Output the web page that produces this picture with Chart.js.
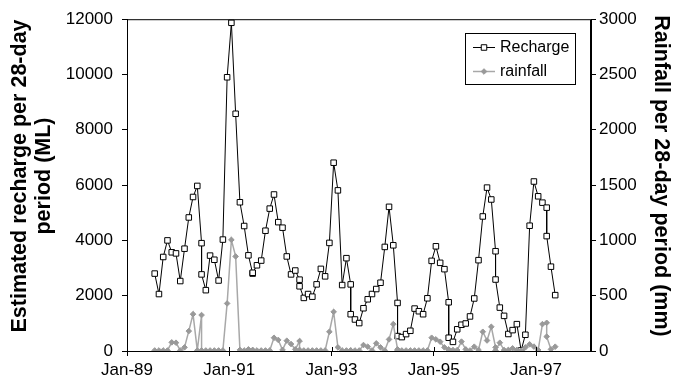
<!DOCTYPE html>
<html>
<head>
<meta charset="utf-8">
<script src="https://cdn.jsdelivr.net/npm/chart.js@4.4.1/dist/chart.umd.min.js"></script>
<style>
  html, body { margin: 0; padding: 0; background: #fff; }
  #wrap { width: 673px; height: 382px; }
</style>
</head>
<body>
<div id="wrap"><canvas id="chart" width="673" height="382"></canvas></div>
<script>
// === Data: 28-day periods, first period starting 29 Jul 1989 ===
const firstPeriod = "1989-07-29";
const periodDays = 28;

// Estimated recharge per 28-day period (ML)
const recharge = [
  2800, 2060, 3400, 4000, 3570, 3530, 2530, 3700, 4830, 5570, 5970, 3900, 2770,
  2200, 3450, 3300, 2550, 4030, 9900, 11870, 8580, 5380, 4520, 3460, 2800, 2830,
  3100, 3270, 4350, 5150, 5660, 4660, 4460, 3420, 2770, 2910, 2580, 2340,
  1920, 2060, 1965, 2410, 2970, 2700, 3910, 6810, 5810, 2385, 3357, 2409, 1330,
  1140, 1010, 1546, 1870, 2061, 2241, 2469, 3764, 5214, 3823, 1738, 539,
  503, 611, 731, 1534, 1438, 1330, 1906, 3260, 3787, 3189, 2960, 1762, 480,
  330, 785, 950, 995, 1250, 1900, 3285, 4866, 5909, 5480, 3608, 2585,
  1570, 1271, 615, 755, 971, 20, 587, 4531, 6130, 5595, 5365, 5185, 4155,
  3050, 2020
];

// Rainfall per 28-day period (mm)
const rainfall = [
  5, 5, 5, 5, 78, 75, 5, 33, 180, 333, 5, 325, 5,
  5, 5, 5, 5, 5, 430, 1005, 855, 10, 5, 15, 5, 10,
  5, 5, 5, 5, 120, 100, 10, 93, 63, 15, 90, 10,
  5, 5, 5, 5, 5, 5, 174, 354, 33, 5, 5, 5, 5,
  5, 5, 54, 39, 5, 69, 33, 5, 105, 243, 15, 5,
  5, 5, 5, 5, 5, 5, 5, 120, 105, 84, 33, 15, 10,
  9, 9, 85, 15, 5, 39, 10, 174, 95, 219, 33, 5,
  75, 9, 10, 24, 10, 3, 33, 60, 40, 9, 243, 255, 130,
  15, 39
];

// x axis: months since Jan-89
const tickMonths = [0, 24, 48, 72, 96];
const tickLabels = ["Jan-89", "Jan-91", "Jan-93", "Jan-95", "Jan-97"];
const axisEndMonth = 108.9;

// === Helper: month position of each period (plotted mid-month) ===
function periodMonth(i) {
  const d = new Date(firstPeriod + "T00:00:00Z");
  d.setUTCDate(d.getUTCDate() + i * periodDays);
  return (d.getUTCFullYear() - 1989) * 12 + d.getUTCMonth() + 0.5;
}

const rechargePts = recharge.map((v, i) => ({ x: periodMonth(i), y: v }));
const rainfallPts = rainfall.map((v, i) => ({ x: periodMonth(i), y: v }));

const FONT = "'Liberation Sans', Arial, sans-serif";

// === Frame, axis titles and legend ===
const extras = {
  id: "extras",
  afterDraw(chart) {
    const { ctx, chartArea: a } = chart;
    ctx.save();
    ctx.strokeStyle = "#000";
    ctx.lineWidth = 1;
    ctx.strokeRect(a.left + 0.5, a.top + 0.5, a.right - a.left - 1, a.bottom - a.top);

    // small tick stubs above the x axis (cross ticks)
    chart.scales.x.ticks.forEach(t => {
      const px = Math.round(chart.scales.x.getPixelForValue(t.value)) + 0.5;
      ctx.beginPath();
      ctx.moveTo(px, a.bottom - 4);
      ctx.lineTo(px, a.bottom);
      ctx.stroke();
    });

    // axis titles
    ctx.fillStyle = "#000";
    ctx.font = "bold 21.5px " + FONT;
    ctx.textAlign = "center";
    ctx.textBaseline = "middle";
    ctx.save();
    ctx.translate(20, 176);
    ctx.rotate(-Math.PI / 2);
    ctx.fillText("Estimated recharge per 28-day", 0, 0);
    ctx.fillText("period (ML)", 0, 24);
    ctx.restore();
    ctx.save();
    ctx.translate(661, 176);
    ctx.rotate(Math.PI / 2);
    ctx.fillText("Rainfall per 28-day period (mm)", 0, 0);
    ctx.restore();

    // legend
    ctx.fillStyle = "#fff";
    ctx.fillRect(465.5, 33.5, 110, 51);
    ctx.strokeRect(465.5, 33.5, 110, 51);
    chart.data.datasets.forEach((ds, k) => {
      const y = 47.5 + k * 24;
      ctx.strokeStyle = ds.borderColor;
      ctx.lineWidth = ds.borderWidth;
      ctx.beginPath();
      ctx.moveTo(473, y);
      ctx.lineTo(495, y);
      ctx.stroke();
      ctx.fillStyle = ds.pointBackgroundColor;
      ctx.strokeStyle = ds.pointBorderColor;
      ctx.lineWidth = ds.pointBorderWidth;
      ctx.beginPath();
      if (ds.pointStyle === "rect") {
        const s = ds.pointRadius * Math.SQRT1_2;
        ctx.rect(484 - s, y - s, 2 * s, 2 * s);
      } else {
        const r = ds.pointRadius;
        ctx.moveTo(484, y - r); ctx.lineTo(484 + r, y);
        ctx.lineTo(484, y + r); ctx.lineTo(484 - r, y); ctx.closePath();
      }
      ctx.fill();
      ctx.stroke();
      ctx.fillStyle = "#000";
      ctx.font = "16px " + FONT;
      ctx.textAlign = "left";
      ctx.fillText(ds.label, 500, y);
    });
    ctx.restore();
  }
};

const axisLine = { display: true, color: "#000", width: 1 };
const tickGrid = { drawOnChartArea: false, drawTicks: true, tickLength: 5, color: "#000" };
const tickFont = { family: FONT, size: 17 };

new Chart(document.getElementById("chart").getContext("2d"), {
  type: "line",
  data: {
    datasets: [
      {
        label: "Recharge",
        data: rechargePts,
        yAxisID: "y",
        borderColor: "#000",
        borderWidth: 1,
        pointStyle: "rect",
        pointRadius: 3.9,
        pointBackgroundColor: "#fff",
        pointBorderColor: "#000",
        pointBorderWidth: 1,
        tension: 0,
        order: 1
      },
      {
        label: "rainfall",
        data: rainfallPts,
        yAxisID: "y2",
        borderColor: "#a8a8a8",
        borderWidth: 1.5,
        pointStyle: "rectRot",
        pointRadius: 2.8,
        pointBackgroundColor: "#999",
        pointBorderColor: "#999",
        pointBorderWidth: 1,
        tension: 0,
        order: 0
      }
    ]
  },
  options: {
    responsive: false,
    animation: false,
    layout: { padding: { top: 17, left: 0, right: 0, bottom: 0 } },
    plugins: { legend: { display: false }, tooltip: { enabled: false } },
    scales: {
      x: {
        type: "linear",
        min: 0,
        max: axisEndMonth,
        border: axisLine,
        grid: tickGrid,
        afterBuildTicks: s => { s.ticks = tickMonths.map(v => ({ value: v })); },
        afterFit: s => { s.height = 31; },
        ticks: {
          color: "#000",
          font: tickFont,
          padding: 4,
          maxRotation: 0,
          callback: v => tickLabels[tickMonths.indexOf(v)]
        }
      },
      y: {
        position: "left",
        min: 0,
        max: 12000,
        border: axisLine,
        grid: tickGrid,
        afterFit: s => { s.width = 127; },
        ticks: { stepSize: 2000, color: "#000", font: tickFont, padding: 9, callback: v => String(v) }
      },
      y2: {
        position: "right",
        min: 0,
        max: 3000,
        border: axisLine,
        grid: tickGrid,
        afterFit: s => { s.width = 82; },
        ticks: { stepSize: 500, color: "#000", font: tickFont, padding: 3, callback: v => String(v) }
      }
    }
  },
  plugins: [extras]
});
</script>
</body>
</html>
